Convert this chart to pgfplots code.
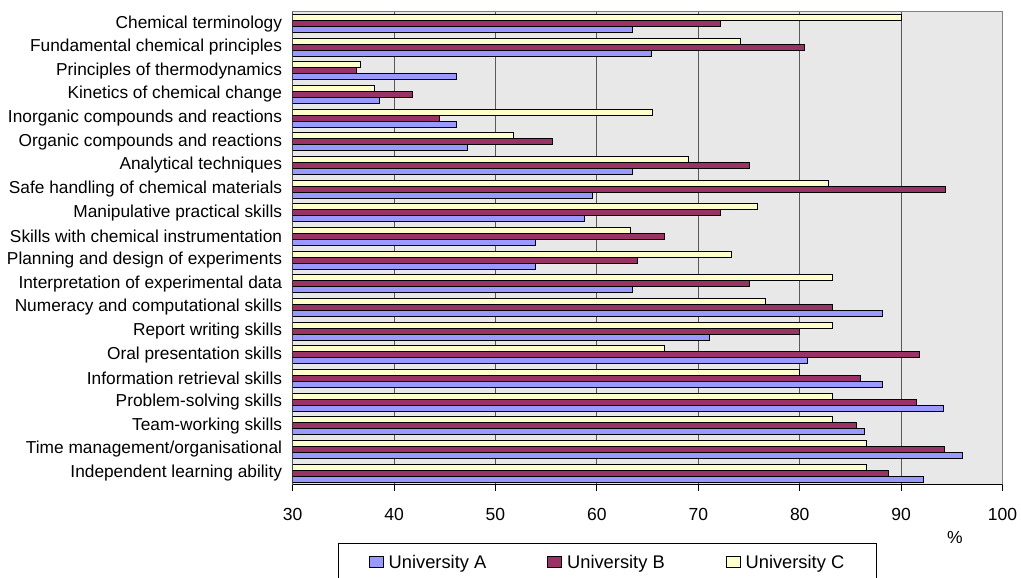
\documentclass[border=0pt]{standalone}
\usepackage{fontspec}
\setmainfont{Liberation Sans}
\usepackage{pgfplots}
\pgfplotsset{compat=1.18}
\definecolor{uniA}{HTML}{9999FF}
\definecolor{uniB}{HTML}{993366}
\definecolor{uniC}{HTML}{FFFFCC}
\definecolor{plotbg}{HTML}{E8E8E8}
\begin{document}
\begin{tikzpicture}[x=1pt,y=1pt]
\begin{axis}[
  at={(0pt,0pt)}, anchor=south west,
  scale only axis, width=710pt, height=473.3pt,
  xbar, bar width=6pt,
  xmin=30, xmax=100, ymin=-0.5, ymax=19.5,
  axis background/.style={fill=plotbg},
  axis line style={draw=gray, line width=1pt},
  xtick={30,40,...,100},
  xmajorgrids, major grid style={black!65, line width=1pt},
  tick align=outside, xtick pos=bottom, major tick length=6pt,
  xtick style={black, line width=1pt},
  ytick={0,...,19}, ytick style={draw=none},
  yticklabels={Independent learning ability,Time management/organisational,Team-working skills,Problem-solving skills,Information retrieval skills,Oral presentation skills,Report writing skills,Numeracy and computational skills,Interpretation of experimental data,Planning and design of experiments,Skills with chemical instrumentation,Manipulative practical skills,Safe handling of chemical materials,Analytical techniques,Organic compounds and reactions,Inorganic compounds and reactions,Kinetics of chemical change,Principles of thermodynamics,Fundamental chemical principles,Chemical terminology},
  /pgf/number format/assume math mode=true,
  xticklabel style={font=\fontsize{17.5}{20}\selectfont, yshift=-14pt},
  yticklabel style={font=\fontsize{17.3}{20}\selectfont, xshift=-1pt},
  xlabel={\%},
  xlabel style={font=\fontsize{17.5}{20}\selectfont, at={(axis description cs:0.933,-0.111)}, anchor=center},
  legend style={at={(axis description cs:0.0644,-0.1232)}, anchor=north west,
    legend columns=3, draw=black, line width=1pt,
    font=\fontsize{18.3}{21}\selectfont,
    /tikz/every even column/.append style={column sep=59pt},
    inner xsep=30pt, inner ysep=9pt},
  legend image code/.code={\draw[#1, line width=0.8pt] (0pt,-5.5pt) rectangle (14pt,5.5pt); \path (17pt,0pt);},
  every axis plot/.append style={draw=black, line width=0.9pt},
]
\addplot[fill=uniA, bar shift=-6pt] coordinates {
(92.2,0) (96.0,1) (86.4,2) (94.2,3) (88.2,4) (80.8,5) (71.1,6) (88.2,7) (63.5,8) (53.9,9)
(53.9,10) (58.8,11) (59.6,12) (63.5,13) (47.2,14) (46.2,15) (38.6,16) (46.2,17) (65.4,18) (63.5,19)};
\addplot[fill=uniB, bar shift=0pt] coordinates {
(88.7,0) (94.3,1) (85.6,2) (91.5,3) (86.0,4) (91.8,5) (80.0,6) (83.2,7) (75.0,8) (64.0,9)
(66.7,10) (72.2,11) (94.4,12) (75.0,13) (55.6,14) (44.5,15) (41.8,16) (36.3,17) (80.5,18) (72.2,19)};
\addplot[fill=uniC, bar shift=6pt] coordinates {
(86.6,0) (86.6,1) (83.2,2) (83.2,3) (80.0,4) (66.7,5) (83.2,6) (76.6,7) (83.2,8) (73.3,9)
(63.3,10) (75.8,11) (82.8,12) (69.0,13) (51.8,14) (65.5,15) (38.1,16) (36.7,17) (74.2,18) (90.0,19)};
\legend{University A,University B,University C}
\draw[black, line width=1pt] (rel axis cs:0,1) -- (rel axis cs:0,0) -- (rel axis cs:1,0);
\end{axis}
\pgfresetboundingbox
\useasboundingbox (-292.6pt,-93pt) rectangle (728.4pt,485pt);
\end{tikzpicture}
\end{document}
